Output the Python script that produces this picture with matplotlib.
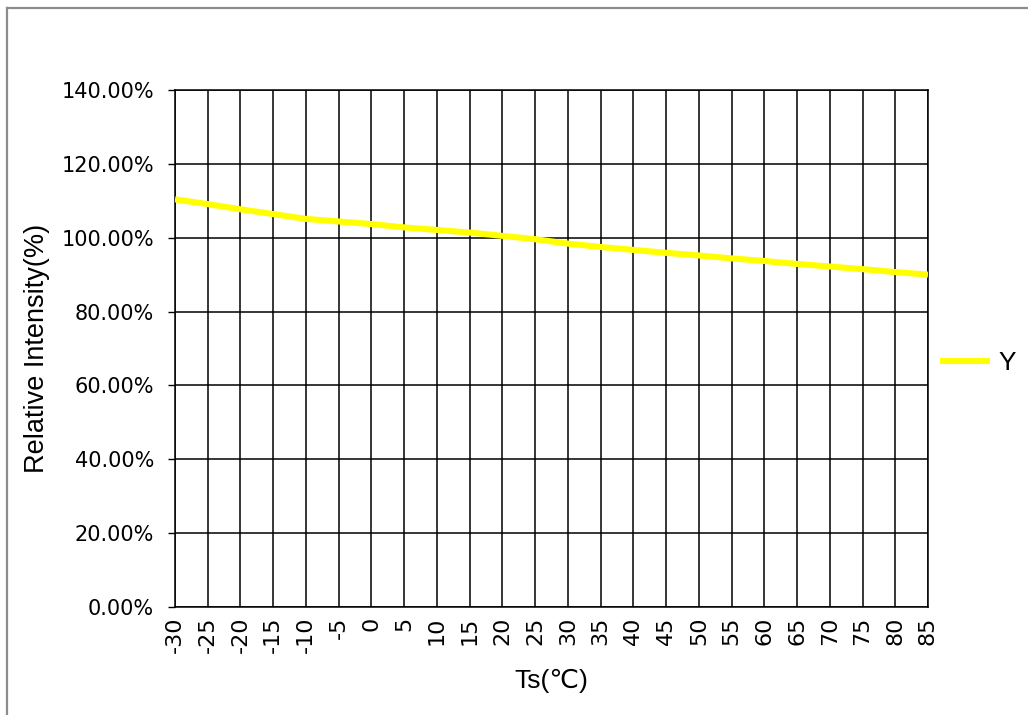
import matplotlib
matplotlib.use("Agg")
import matplotlib.pyplot as plt
from matplotlib.lines import Line2D
from matplotlib.ticker import FuncFormatter, MultipleLocator

temps = [-30, -25, -20, -15, -10, -5, 0, 5, 10, 15, 20, 25,
         30, 35, 40, 45, 50, 55, 60, 65, 70, 75, 80, 85]
intensity = [110.4, 109.1, 107.7, 106.4, 105.1, 104.4, 103.7, 102.8, 102.1, 101.4, 100.5, 99.6,
             98.4, 97.5, 96.7, 95.9, 95.2, 94.4, 93.7, 92.9, 92.2, 91.5, 90.7, 90.0]
series_name = "Y"
x_title = "Ts(℃)"
y_title = "Relative Intensity(%)"

W, H = 1028, 715
fig = plt.figure(figsize=(W / 100, H / 100), dpi=100)
fig.patch.set_facecolor("white")

# chart-area border (left and top)
fig.add_artist(Line2D([7 / W, 7 / W], [0, 1 - 8 / H], color="#8c8c8c", lw=1.6, transform=fig.transFigure))
fig.add_artist(Line2D([7 / W, 1], [1 - 8 / H, 1 - 8 / H], color="#8c8c8c", lw=1.6, transform=fig.transFigure))

ax = fig.add_axes([175 / W, 1 - 607 / H, (928 - 175) / W, (607 - 90) / H])
xpos = list(range(len(temps)))
ax.plot(xpos, intensity, color="#FFFF00", lw=4.4, solid_capstyle="butt", label=series_name, zorder=3)

ax.set_xlim(0, len(temps) - 1)
ax.set_ylim(0, 140)
ax.yaxis.set_major_locator(MultipleLocator(20))
ax.yaxis.set_major_formatter(FuncFormatter(lambda v, p: f"{v:.2f}%"))
ax.set_xticks(xpos)
ax.set_xticklabels([str(t) for t in temps], rotation=90, fontfamily="DejaVu Sans", fontsize=16)
for lab in ax.get_yticklabels():
    lab.set_fontfamily("DejaVu Sans")
    lab.set_fontsize(15)
ax.tick_params(axis="x", length=0, pad=7)
ax.tick_params(axis="y", length=5, width=1, direction="out", pad=10, colors="black")
ax.grid(True, color="black", lw=1.1)
ax.set_axisbelow(True)
for s in ax.spines.values():
    s.set_color("black")
    s.set_linewidth(1.1)

ax.set_xlabel(x_title, family=["Liberation Sans", "DejaVu Sans"], fontsize=19, labelpad=11)
ax.set_ylabel(y_title, family=["Liberation Sans", "DejaVu Sans"], fontsize=19.5, labelpad=8)

fig.legend(loc="center left", bbox_to_anchor=(940 / W, 1 - 363 / H), frameon=False,
           prop={"family": "Liberation Sans", "size": 19}, handlelength=1.9, handletextpad=0.3,
           borderpad=0, borderaxespad=0)

fig.savefig("out.png", dpi=100)
